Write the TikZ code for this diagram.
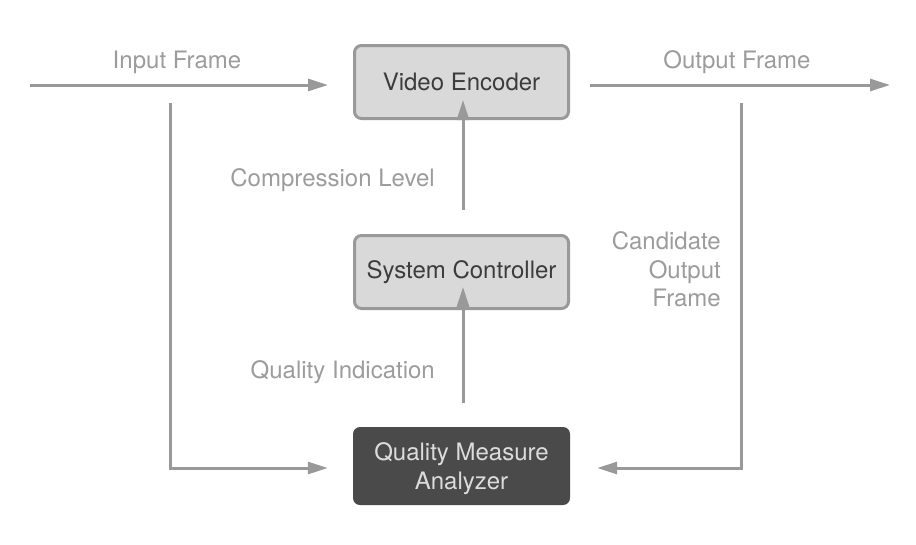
\documentclass[tikz,border=0pt]{standalone}
\usepackage{fontspec}
\setmainfont{TeX Gyre Heros}
\usetikzlibrary{arrows.meta,calc}
\definecolor{linegray}{HTML}{999999}
\definecolor{labelgray}{HTML}{9C9C9C}
\definecolor{boxfill}{HTML}{D9D9D9}
\definecolor{boxtext}{HTML}{3C3C3C}
\definecolor{darkfill}{HTML}{4A4A4A}
\definecolor{darktext}{HTML}{DCDCDC}
\tikzset{
  lightbox/.style={draw=linegray, line width=3pt, fill=boxfill, rounded corners=7pt,
    minimum width=214pt, minimum height=73pt, text=boxtext, font=\fontsize{24}{28}\selectfont, align=center},
  darkbox/.style={fill=darkfill, rounded corners=7pt, minimum width=217pt, minimum height=78pt,
    text=darktext, font=\fontsize{24}{29}\selectfont, align=center},
  conn/.style={draw=linegray, line width=3pt, -{Triangle[length=20pt,width=12pt]}},
  lbl/.style={text=labelgray, font=\fontsize{24}{28.5}\selectfont, inner sep=0pt},
}
\begin{document}
\begin{tikzpicture}[x=1pt,y=-1pt]
\useasboundingbox (0,0) rectangle (916,544);
\node[lightbox] (enc) at (461.5,82) {Video Encoder};
\node[lightbox] (ctl) at (461.5,272) {System Controller};
\node[darkbox, text depth=1pt] (qma) at (461.5,466) {\raisebox{13pt}{\parbox{200pt}{\centering Quality Measure\\Analyzer}}};
\coordinate (inS) at (30,85);
\coordinate (outE) at (890,85);
\coordinate (lTop) at (170,103);
\coordinate (rTop) at (741,103);
\draw[conn] (inS) -- ($(enc.west)+(-25,3)$);
\draw[conn] ($(enc.east)+(20,3)$) -- (outE);
\draw[conn] (lTop) |- ($(qma.west)+(-25,2)$);
\draw[conn] (rTop) |- ($(qma.east)+(27,2)$);
\draw[conn] ($(ctl.north)+(1.5,-24)$) -- ($(enc.south)+(1.5,-20)$);
\draw[conn] ($(qma.north)+(1.5,-24)$) -- ($(ctl.south)+(1.5,-23)$);
\node[lbl] (linp) at (177,62) {Input Frame};
\node[lbl] (lout) at (737,62) {Output Frame};
\node[lbl, anchor=east] (lcomp) at (435,180) {Compression Level};
\node[lbl, anchor=east] (lqual) at (435,372.5) {Quality Indication};
\node[lbl, anchor=east, align=right] (lcand) at (721,269.5) {Candidate\\Output\\Frame};
\end{tikzpicture}
\end{document}
